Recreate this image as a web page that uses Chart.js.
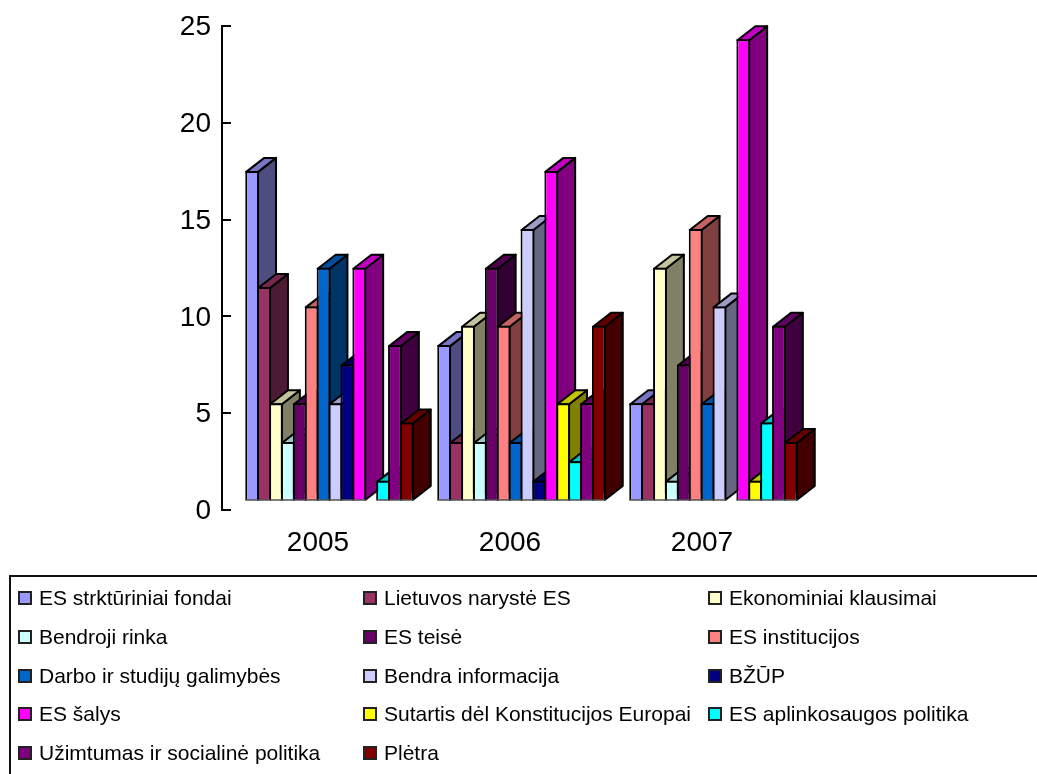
<!DOCTYPE html>
<html>
<head>
  <title>ES temos 2005-2007</title>
  <script src="https://cdnjs.cloudflare.com/ajax/libs/Chart.js/4.4.1/chart.umd.min.js"></script>
  <style>
    html, body {
      margin: 0;
      padding: 0;
      background: #fff;
      overflow: hidden;
    }
    .chart-box {
      position: absolute;
      left: 0;
      top: 0;
      width: 1037px;
      height: 774px;
    }
    .legend {
      position: absolute;
      left: 9px;
      top: 575px;
      width: 1040px;
      height: 220px;
      box-sizing: border-box;
      border: 2px solid #111;
      font-family: "Liberation Sans", Arial, sans-serif;
      font-size: 21px;
      color: #000;
    }
    .legend-item {
      position: absolute;
      white-space: nowrap;
      line-height: 22px;
    }
    .legend-item i {
      position: absolute;
      left: -21px;
      top: 4px;
      width: 10px;
      height: 10px;
      border: 2px solid #222;
    }
  </style>
</head>
<body>
  <div class="chart-box"><canvas id="chart" width="1037" height="774"></canvas></div>
  <div class="legend" id="legend"></div>

  <script>
    const years = ['2005', '2006', '2007'];
    const topics = [
      'ES strktūriniai fondai', 'Lietuvos narystė ES', 'Ekonominiai klausimai',
      'Bendroji rinka', 'ES teisė', 'ES institucijos',
      'Darbo ir studijų galimybės', 'Bendra informacija', 'BŽŪP',
      'ES šalys', 'Sutartis dėl Konstitucijos Europai', 'ES aplinkosaugos politika',
      'Užimtumas ir socialinė politika', 'Plėtra'
    ];
    const colors = [
      '#9999ff', '#993366', '#ffffcc', '#ccffff', '#660066', '#ff8080', '#0066cc',
      '#ccccff', '#000080', '#ff00ff', '#ffff00', '#00ffff', '#800080', '#800000'
    ];
    // one row per year, one column per topic
    const values2005 = [17, 11, 5, 3, 5, 10, 12, 5, 7, 12, null, 1, 8, 4];
    const values2006 = [8, 3, 9, 3, 12, 9, 3, 14, 1, 17, 5, 2, 5, 9];
    const values2007 = [5, 5, 12, 1, 7, 14, 5, 10, null, 23.8, 1, 4, 9, 3];

    const depthX = 18, depthY = 14;   // 3d depth of a bar
    const shiftX = 11.5, shiftY = 10; // front faces sit off the axes
    const edge = 2;                   // outline width

    function shade(hex, k) {
      const n = parseInt(hex.slice(1), 16);
      const c = [n >> 16, (n >> 8) & 255, n & 255].map(v => Math.round(v * k));
      return `rgb(${c[0]},${c[1]},${c[2]})`;
    }

    function face(ctx, pts, fill) {
      ctx.beginPath();
      pts.forEach((p, i) => i ? ctx.lineTo(p[0], p[1]) : ctx.moveTo(p[0], p[1]));
      ctx.closePath();
      ctx.fillStyle = fill;
      ctx.fill();
      ctx.stroke();
    }

    const bars3d = {
      id: 'bars3d',
      // paint datasets left to right so each bar covers its neighbour's side,
      // side and top here, the front from the bar element itself
      beforeDatasetsDraw(chart) {
        const ctx = chart.ctx;
        ctx.save();
        ctx.translate(shiftX, -shiftY);
        ctx.lineJoin = 'round';
        topics.forEach((label, d) => {
          const meta = chart.getDatasetMeta(d);
          const live = meta.data.filter((bar, i) => meta._parsed[i].y != null);
          ctx.lineWidth = edge;
          ctx.strokeStyle = '#000';
          live.forEach(bar => {
            // border sits inside the bar element, so go to the middle of it
            const l = bar.x - bar.width / 2 + edge / 2, r = bar.x + bar.width / 2 - edge / 2;
            const t = bar.y + edge / 2, b = bar.base;
            face(ctx, [[r, t], [r + depthX, t - depthY], [r + depthX, b - depthY], [r, b]], shade(colors[d], 0.5));
            face(ctx, [[l, t], [l + depthX, t - depthY], [r + depthX, t - depthY], [r, t]], shade(colors[d], 0.77));
          });
          meta.controller.draw();
          // thin grey foot under the front face
          ctx.lineWidth = 1.5;
          ctx.strokeStyle = '#555';
          live.forEach(bar => {
            ctx.beginPath();
            ctx.moveTo(bar.x - bar.width / 2, bar.base);
            ctx.lineTo(bar.x + bar.width / 2, bar.base);
            ctx.stroke();
          });
        });
        ctx.restore();
        return false;
      },
      // major ticks also cross the axis line
      afterDraw(chart) {
        const ctx = chart.ctx, y = chart.scales.y;
        ctx.save();
        ctx.strokeStyle = '#000';
        ctx.lineWidth = 2;
        y.ticks.forEach(t => {
          if (t.value % 5) return;
          const py = Math.round(y.getPixelForValue(t.value));
          ctx.beginPath();
          ctx.moveTo(y.right, py);
          ctx.lineTo(y.right + 9, py);
          ctx.stroke();
        });
        ctx.restore();
      }
    };

    const datasets = topics.map((label, i) => ({
      label,
      data: [values2005[i], values2006[i], values2007[i]],
      backgroundColor: colors[i],
      borderColor: '#000',
      borderWidth: edge
    }));

    new Chart(document.getElementById('chart'), {
      type: 'bar',
      data: { labels: years, datasets },
      plugins: [bars3d],
      options: {
        responsive: false,
        animation: false,
        events: [],
        // bars overlap by one outline so neighbours share a single line
        categoryPercentage: 0.8677,
        barPercentage: 1.16,
        layout: { padding: { top: 26, right: 239, left: 0, bottom: 0 } },
        plugins: { legend: { display: false }, tooltip: { enabled: false } },
        scales: {
          x: {
            grid: { display: false },
            border: { display: false },
            ticks: { color: '#000', padding: 8, font: { family: 'Liberation Sans', size: 28 }, maxRotation: 0 },
            afterFit(s) { s.height = 264; }
          },
          y: {
            min: 0,
            max: 25,
            grid: { display: false, drawOnChartArea: false, drawTicks: true, tickLength: 7, tickColor: '#000', tickWidth: 2 },
            border: { display: true, color: '#000', width: 2 },
            ticks: {
              stepSize: 1,
              autoSkip: false,
              color: '#000',
              padding: 4,
              labelOffset: 1.5,
              font: { family: 'Liberation Sans', size: 28 },
              callback: v => (v % 5 === 0 ? v : '')
            },
            afterFit(s) { s.width = 222; }
          }
        }
      }
    });

    // legend: three columns, filled row by row
    const legend = document.getElementById('legend');
    topics.forEach((label, i) => {
      const row = Math.floor(i / 3), col = i % 3;
      const item = document.createElement('div');
      item.className = 'legend-item';
      item.style.left = (28 + col * 345) + 'px';
      item.style.top = (10 + row * 38.8) + 'px';
      item.innerHTML = `<i style="background:${colors[i]}"></i>${label}`;
      legend.appendChild(item);
    });
  </script>
</body>
</html>
